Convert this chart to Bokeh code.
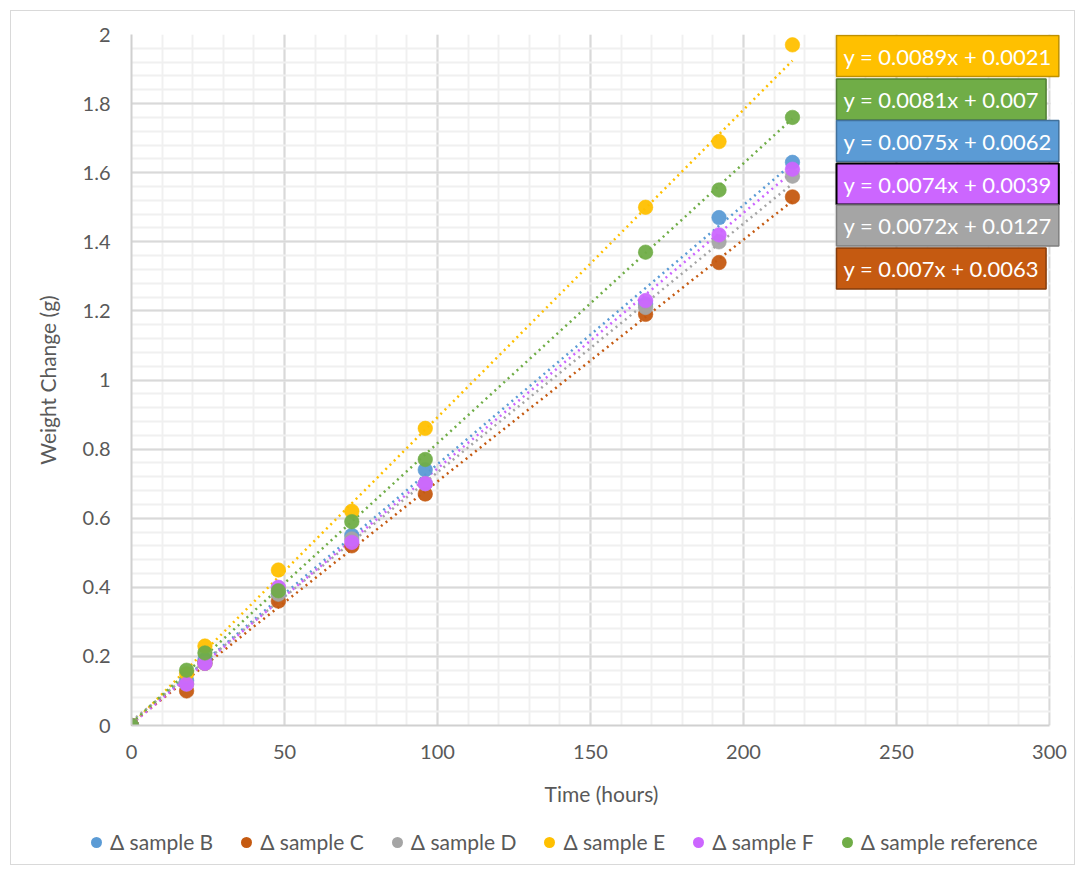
from bokeh.plotting import figure
from bokeh.layouts import column
from bokeh.models import (Range1d, SingleIntervalTicker, CustomJSTickFormatter, Label, Div)
from bokeh.embed import file_html
from bokeh.resources import INLINE

# ---- data ----
hours = [0, 18, 24, 48, 72, 96, 168, 192, 216]
series_names = ["Δ sample B", "Δ sample C", "Δ sample D", "Δ sample E", "Δ sample F", "Δ sample reference"]
sample_B = [0, 0.13, 0.19, 0.38, 0.55, 0.74, 1.22, 1.47, 1.63]
sample_C = [0, 0.10, 0.18, 0.36, 0.52, 0.67, 1.19, 1.34, 1.53]
sample_D = [0, 0.12, 0.18, 0.38, 0.54, 0.70, 1.21, 1.40, 1.59]
sample_E = [0, 0.15, 0.23, 0.45, 0.62, 0.86, 1.50, 1.69, 1.97]
sample_F = [0, 0.12, 0.18, 0.40, 0.53, 0.70, 1.23, 1.42, 1.61]
sample_ref = [0, 0.16, 0.21, 0.39, 0.59, 0.77, 1.37, 1.55, 1.76]
slopes = [0.0075, 0.007, 0.0072, 0.0089, 0.0074, 0.0081]
intercepts = [0.0062, 0.0063, 0.0127, 0.0021, 0.0039, 0.007]
colors = ["#5B9BD5", "#C55A11", "#A5A5A5", "#FFC000", "#CC66FF", "#70AD47"]
borders = ["#41719C", "#843C0C", "#7F7F7F", "#BF9000", "#000000", "#507E32"]
equations = ["y = 0.0075x + 0.0062", "y = 0.007x + 0.0063", "y = 0.0072x + 0.0127",
             "y = 0.0089x + 0.0021", "y = 0.0074x + 0.0039", "y = 0.0081x + 0.007"]
values = [sample_B, sample_C, sample_D, sample_E, sample_F, sample_ref]

X_MAX, Y_MAX = 300, 2

FONT = "Lato"
TXT = "#595959"

# layout (pixels)
ORIGIN = 11            # content origin on page (after margin + border)
FRAME_L, FRAME_T, FRAME_B = 131, 34, 725
AXIS_R = 1049          # pixel where x = 300 sits
FRAME_R = 1071         # frame extended to the right so the equation boxes are not clipped
W = 1063
H_MAIN = 809
H_LEG = 44

px_per_x = (AXIS_R - FRAME_L) / X_MAX
x_end = X_MAX + (FRAME_R - AXIS_R) / px_per_x

p = figure(width=W, height=H_MAIN, output_backend="svg", toolbar_location=None,
           x_range=Range1d(0, x_end), y_range=Range1d(0, Y_MAX),
           min_border_left=FRAME_L - ORIGIN, min_border_right=ORIGIN + W - FRAME_R,
           min_border_top=FRAME_T - ORIGIN, min_border_bottom=ORIGIN + H_MAIN - FRAME_B)
p.outline_line_color = None
p.background_fill_color = "white"
p.border_fill_color = "white"

p.xaxis.ticker = SingleIntervalTicker(interval=50, num_minor_ticks=5)
p.yaxis.ticker = SingleIntervalTicker(interval=0.2, num_minor_ticks=5)
p.yaxis.formatter = CustomJSTickFormatter(code="return String(Number(tick.toFixed(2)));")
p.xaxis.bounds = (0, X_MAX)

for ax in (p.xaxis[0], p.yaxis[0]):
    ax.axis_line_color = "#D0D0D0"
    ax.axis_line_width = 2
    ax.major_tick_line_color = None
    ax.minor_tick_line_color = None
    ax.major_tick_out = 0
    ax.major_tick_in = 0
    ax.minor_tick_out = 0
    ax.minor_tick_in = 0
    ax.major_label_text_font = FONT
    ax.major_label_text_font_size = "20px"
    ax.major_label_text_color = TXT
    ax.axis_label_text_font = FONT
    ax.axis_label_text_font_size = "21px"
    ax.axis_label_text_font_style = "normal"
    ax.axis_label_text_color = TXT

p.xaxis.axis_label = "Time (hours)"
p.yaxis.axis_label = "Weight Change (g)"
p.xaxis.major_label_standoff = 19
p.xaxis.axis_label_standoff = 19
p.yaxis.major_label_standoff = 21
p.yaxis.axis_label_standoff = 20

for g in (p.xgrid[0], p.ygrid[0]):
    g.grid_line_color = "#D9D9D9"
    g.grid_line_width = 2
    g.minor_grid_line_color = "#F0F0F0"
    g.minor_grid_line_width = 2

# white cover for the extra strip to the right of x = 300
p.quad(left=[X_MAX + 0.4], right=[x_end + 1], bottom=[0], top=[Y_MAX],
       fill_color="white", line_color=None)

for ys, m, b, c in zip(values, slopes, intercepts, colors):
    tx = [hours[0], hours[-1]]
    ty = [m * x + b for x in tx]
    p.line(tx, ty, line_color=c, line_width=2.5, line_dash="2 4")
for ys, c in zip(values, colors):
    p.scatter(hours, ys, size=14.5, fill_color=c, line_color=c, fill_alpha=0.95, line_alpha=0.6)

# equation labels, ordered top to bottom as in the chart
order = [3, 5, 0, 4, 2, 1]
box_centers_px = [55.5, 99, 140.5, 183.5, 225, 268]
box_left_px = 836
px_per_y = (FRAME_B - FRAME_T) / Y_MAX
for idx, cy in zip(order, box_centers_px):
    lab = Label(x=(box_left_px - FRAME_L) / px_per_x, y=(FRAME_B - cy) / px_per_y,
                text=equations[idx], text_font=FONT, text_font_size="22px",
                text_color="white", text_baseline="middle", text_align="left",
                background_fill_color=colors[idx], background_fill_alpha=1,
                border_line_color=borders[idx], border_line_width=2 if idx == 4 else 1.5,
                padding=7)
    p.add_layout(lab)

# legend strip below the chart
item_html = "".join(
    f'<div style="display:flex;align-items:center;margin-right:28px;">'
    f'<span style="display:inline-block;width:11px;height:11px;border-radius:50%;'
    f'background:{c};margin-right:8px;"></span>'
    f'<span>{name}</span></div>'
    for name, c in zip(series_names, colors))
legend_div = Div(
    text=(f'<div style="display:flex;align-items:center;height:{H_LEG}px;'
          f'padding-left:{91 - ORIGIN}px;font-family:{FONT};font-size:21px;color:{TXT};'
          f'white-space:nowrap;">{item_html}</div>'),
    width=W, height=H_LEG, margin=0)

layout = column(p, legend_div, spacing=0)
layout.styles = {"margin": "10px 0 0 10px", "border": "1px solid #D9D9D9"}

open("out.html", "w").write(file_html(layout, INLINE))
